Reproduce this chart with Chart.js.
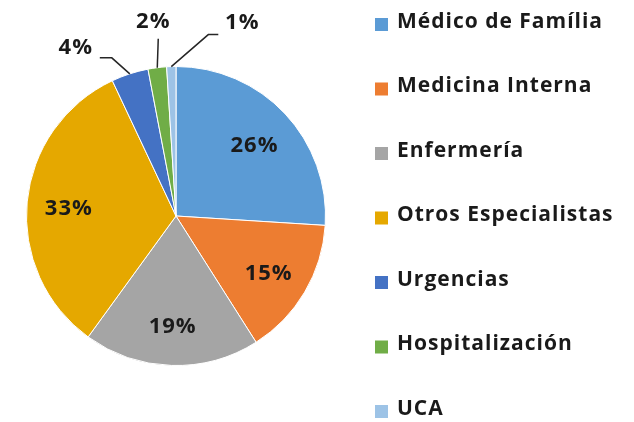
<!DOCTYPE html>
<html lang="es">
<head>
    <meta charset="utf-8">
    <style>
        html, body { margin: 0; padding: 0; background: #ffffff; }
        #wrap { position: relative; width: 634px; height: 422px; }
    </style>
</head>
<body>
    <div id="wrap">
        <canvas id="myChart" width="634" height="422"></canvas>
    </div>

    <script src="https://cdn.jsdelivr.net/npm/chart.js@4.4.0/dist/chart.umd.min.js"></script>

    <script>
        var categories = ['Médico de Família', 'Medicina Interna', 'Enfermería', 'Otros Especialistas', 'Urgencias', 'Hospitalización', 'UCA'];
        var shares = [26, 15, 19, 33, 4, 2, 1];
        var sliceColors = ['#5B9BD5', '#ED7D31', '#A5A5A5', '#E5A800', '#4472C4', '#70AD47', '#9DC3E6'];

        var FONT = '"Open Sans", Lato, sans-serif';

        // where the outside labels go, relative to the slice's outer edge: [elbow, line end, text]
        var calloutOffsets = {
            4: [[-18, -16], [-30, -16], [-54, -26]],
            5: [[1, -29], [1, -29], [-4, -46]],
            6: [[37, -32], [47, -32], [71, -44]]
        };

        var pctLabels = {
            id: 'pctLabels',
            afterDatasetsDraw: function (chart) {
                var ctx = chart.ctx;
                var meta = chart.getDatasetMeta(0);
                var values = chart.data.datasets[0].data;
                ctx.save();
                ctx.font = 'bold 22px ' + FONT;
                ctx.letterSpacing = '1px';
                ctx.fillStyle = '#1a1a1a';
                ctx.textAlign = 'center';
                ctx.textBaseline = 'middle';
                ctx.strokeStyle = '#262626';
                ctx.lineWidth = 1.5;
                meta.data.forEach(function (arc, i) {
                    var p = arc.getProps(['x', 'y', 'startAngle', 'endAngle', 'outerRadius'], true);
                    var mid = (p.startAngle + p.endAngle) / 2;
                    var text = values[i] + '%';
                    var off = calloutOffsets[i];
                    if (!off) {
                        var r = p.outerRadius * 0.72;
                        ctx.fillText(text, p.x + Math.cos(mid) * r, p.y + Math.sin(mid) * r + 3);
                        return;
                    }
                    var ex = p.x + Math.cos(mid) * p.outerRadius;
                    var ey = p.y + Math.sin(mid) * p.outerRadius;
                    ctx.beginPath();
                    ctx.moveTo(ex, ey);
                    ctx.lineTo(ex + off[0][0], ey + off[0][1]);
                    ctx.lineTo(ex + off[1][0], ey + off[1][1]);
                    ctx.stroke();
                    ctx.fillText(text, ex + off[2][0], ey + off[2][1]);
                });
                ctx.restore();
            }
        };

        // legend drawn by hand: the built-in one wraps into two columns at this spacing
        var sideLegend = {
            id: 'sideLegend',
            afterDraw: function (chart) {
                var ctx = chart.ctx;
                var ds = chart.data.datasets[0];
                ctx.save();
                ctx.font = 'bold 21px ' + FONT;
                ctx.letterSpacing = '1px';
                ctx.textBaseline = 'middle';
                chart.data.labels.forEach(function (label, i) {
                    var y = 22 + i * 64.5;
                    ctx.fillStyle = ds.backgroundColor[i];
                    ctx.fillRect(375, y - 4, 13, 13);
                    ctx.fillStyle = '#1a1a1a';
                    ctx.fillText(label, 397, y);
                });
                ctx.restore();
            }
        };

        var ctx = document.getElementById('myChart').getContext('2d');
        var pieChart = new Chart(ctx, {
            type: 'pie',
            data: {
                labels: categories,
                datasets: [{
                    data: shares,
                    backgroundColor: sliceColors,
                    borderColor: '#ffffff',
                    borderWidth: 1
                }]
            },
            options: {
                responsive: false,
                animation: false,
                rotation: 0,
                layout: { padding: { top: 66, bottom: 56, left: 26, right: 308 } },
                plugins: {
                    legend: { display: false },
                    tooltip: { enabled: false }
                }
            },
            plugins: [pctLabels, sideLegend]
        });
    </script>
</body>
</html>
